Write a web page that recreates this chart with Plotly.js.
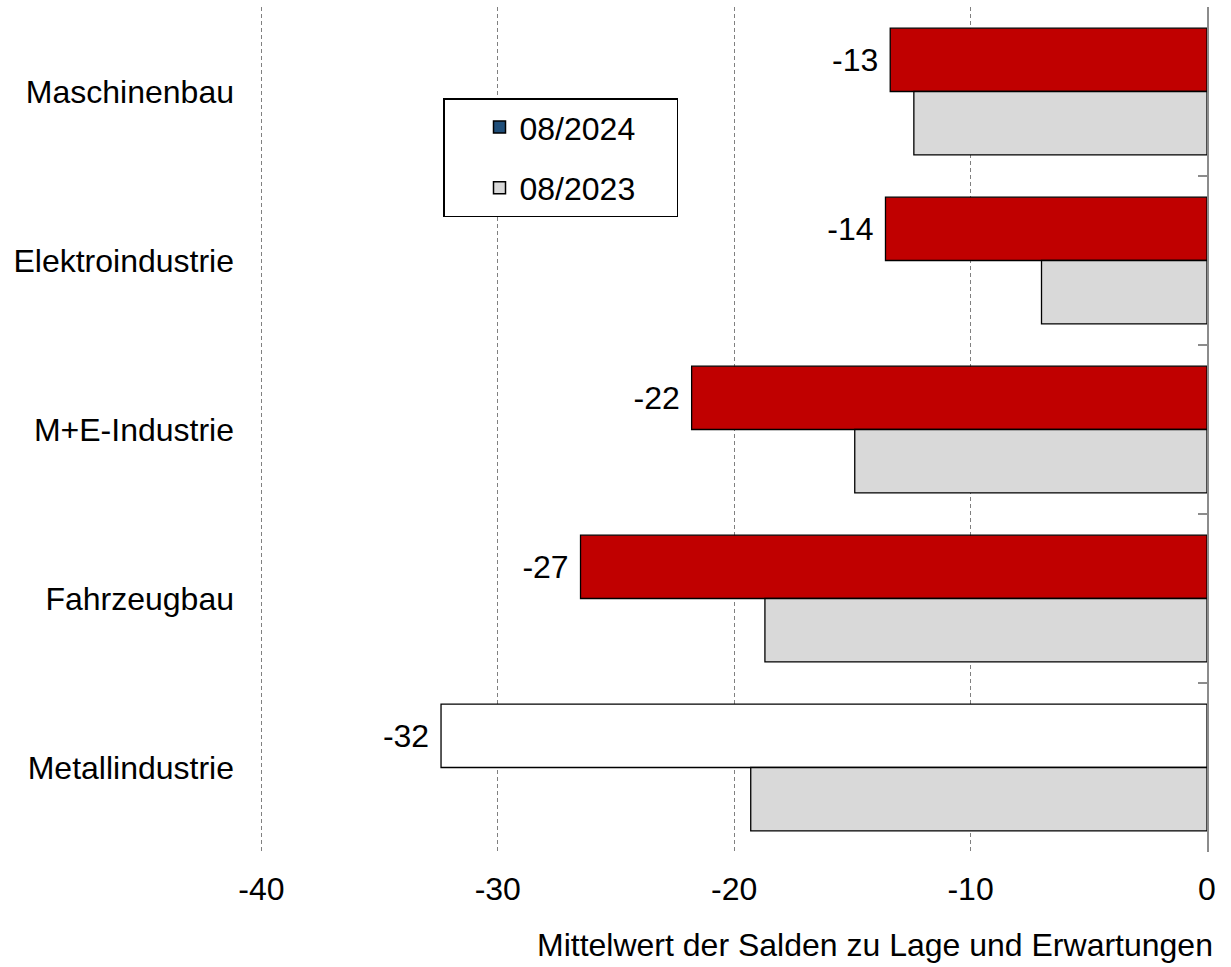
<!DOCTYPE html>
<html>
<head>
<meta charset="utf-8">
<script src="https://cdn.plot.ly/plotly-3.0.1.min.js"></script>
<style>html,body{margin:0;padding:0;background:#fff}#chart{width:1231px;height:967px}</style>
</head>
<body>
<div id="chart"></div>
<script>
const categories = ["Maschinenbau", "Elektroindustrie", "M+E-Industrie", "Fahrzeugbau", "Metallindustrie"];
const values2024 = [-13.4, -13.6, -21.8, -26.5, -32.4];
const values2023 = [-12.4, -7.0, -14.9, -18.7, -19.3];
const colors2024 = ["#C00000", "#C00000", "#C00000", "#C00000", "#FFFFFF"];
const seriesNames = ["08/2024", "08/2023"];
const legendColors = ["#1F4E79", "#D9D9D9"];
const xTicks = [-40, -30, -20, -10, 0];
const axisTitle = "Mittelwert der Salden zu Lage und Erwartungen";

const FONT = "Liberation Sans, Arial, sans-serif";
const FS = 32;
const PAD = "\u00a0\u00a0\u00a0\u00a0";

const traces = [
  {
    type: "bar", orientation: "h", y: categories, x: values2024,
    marker: {color: colors2024, line: {color: "#000", width: 1.3}},
    texttemplate: "%{x:.0f}\u00a0", textposition: "outside", cliponaxis: false,
    textfont: {family: FONT, size: FS, color: "#000"},
    showlegend: false, hoverinfo: "x"
  },
  {
    type: "bar", orientation: "h", y: categories, x: values2023,
    marker: {color: "#D9D9D9", line: {color: "#000", width: 1.3}},
    showlegend: false, hoverinfo: "x"
  },
  {
    type: "bar", orientation: "h", x: [null], y: [null], yaxis: "y2",
    name: seriesNames[0] + PAD, legendgroup: "a",
    marker: {color: legendColors[0], line: {color: "#000", width: 1.5}}
  },
  {
    type: "bar", orientation: "h", x: [null], y: [null], yaxis: "y2",
    name: seriesNames[1] + PAD, legendgroup: "b",
    marker: {color: legendColors[1], line: {color: "#000", width: 1.5}}
  }
];

const layout = {
  width: 1231, height: 967,
  margin: {l: 259, r: 24, t: 7, b: 115},
  paper_bgcolor: "#fff", plot_bgcolor: "#fff",
  font: {family: FONT, size: FS, color: "#000"},
  barmode: "group", bargap: 0.25, bargroupgap: 0,
  xaxis: {
    range: [-40.1, 0], tickvals: xTicks, ticktext: xTicks.map(String),
    ticks: "", ticklabelstandoff: 15,
    showgrid: true, gridcolor: "#808080", gridwidth: 1, griddash: "4px,3px",
    zeroline: false, showline: false, fixedrange: true
  },
  yaxis: {
    type: "category", categoryarray: categories, categoryorder: "array",
    autorange: "reversed", ticks: "", showgrid: false, showline: false,
    zeroline: false, ticklabelstandoff: 24, fixedrange: true
  },
  yaxis2: {
    overlaying: "y", side: "right", anchor: "x",
    range: [categories.length - 0.5, -0.5],
    tickvals: categories.map((c, i) => i - 0.5).concat([categories.length - 0.5]),
    showticklabels: false, ticks: "inside", ticklen: 9, tickwidth: 2, tickcolor: "#8C8C8C",
    showline: true, linecolor: "#8C8C8C", linewidth: 2,
    showgrid: false, zeroline: false, fixedrange: true
  },
  legend: {
    x: 0.1941, y: 0.892, xanchor: "left", yanchor: "top",
    bgcolor: "#fff", bordercolor: "#000", borderwidth: 1.5,
    font: {family: FONT, size: FS, color: "#000"},
    traceorder: "grouped", tracegroupgap: 16, indentation: 35
  },
  annotations: [{
    xref: "paper", yref: "paper", x: 1, y: -0.11, xshift: 8,
    xanchor: "right", yanchor: "middle", showarrow: false,
    text: axisTitle, font: {family: FONT, size: FS, color: "#000"}
  }]
};

Plotly.newPlot("chart", traces, layout, {displayModeBar: false, staticPlot: true});
</script>
</body>
</html>
